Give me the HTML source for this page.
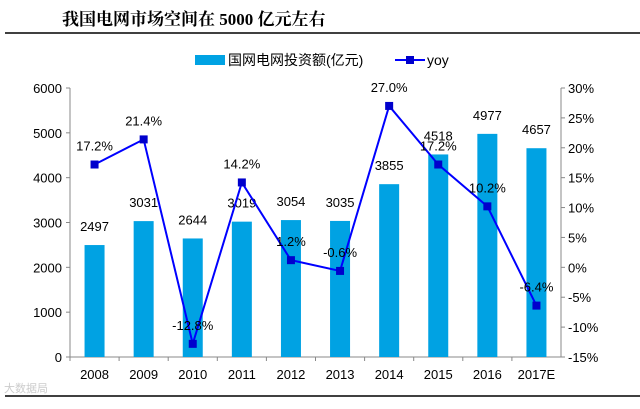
<!DOCTYPE html>
<html><head><meta charset="utf-8"><style>
body{margin:0;background:#fff;}
svg text{font-family:"Liberation Sans","Noto Sans CJK SC",sans-serif;}
</style></head><body>
<svg width="640" height="404" xmlns="http://www.w3.org/2000/svg">
<text x="62" y="25" font-size="17" font-weight="bold" style="font-family:'Liberation Serif','Noto Serif CJK SC',serif">我国电网市场空间在 5000 亿元左右</text>
<line x1="5" y1="33" x2="640" y2="33" stroke="#000" stroke-width="1.5"/>
<line x1="5" y1="396" x2="640" y2="396" stroke="#000" stroke-width="1.5"/>
<g>
<rect x="195" y="55" width="30" height="10" fill="#00a2e3"/>
<text x="228" y="65" font-size="14">国网电网投资额(亿元)</text>
<line x1="395" y1="60" x2="425" y2="60" stroke="#0000ff" stroke-width="2"/>
<rect x="406" y="56" width="8" height="8" fill="#0000cc"/>
<text x="427" y="65" font-size="14">yoy</text>
</g>
<g id="g"></g>
<text x="4" y="392" font-size="11" fill="#ccc">大数据局</text>
</svg>
<script>
const categories=["2008","2009","2010","2011","2012","2013","2014","2015","2016","2017E"];
const invest=[2497,3031,2644,3019,3054,3035,3855,4518,4977,4657];
const yoy=[17.2,21.4,-12.8,14.2,1.2,-0.6,27.0,17.2,10.2,-6.4];
const leftTicks=[0,1000,2000,3000,4000,5000,6000];
const rightTicks=[-15,-10,-5,0,5,10,15,20,25,30];
const L=70,R=561,T=88,B=357;
const step=(R-L)/categories.length;
const yL=v=>B-(v/6000)*(B-T);
const yR=v=>B-((v+15)/45)*(B-T);
const xC=i=>L+step*(i+0.5);
const g=document.getElementById('g');
const NS="http://www.w3.org/2000/svg";
function mk(t,a,txt){const e=document.createElementNS(NS,t);for(const k in a)e.setAttribute(k,a[k]);if(txt!==undefined)e.textContent=txt;g.appendChild(e);return e;}
let e;
e=mk('line',{x1:L,y1:T,x2:L,y2:B,stroke:'#888'});


e=mk('line',{x1:R,y1:T,x2:R,y2:B,stroke:'#888'});


e=mk('line',{x1:L,y1:B,x2:R,y2:B,stroke:'#888'});


leftTicks.forEach(v=>{const y=yL(v);
e=mk('line',{x1:L-4,y1:y,x2:L,y2:y,stroke:'#888'});


e=mk('text',{x:L-8,y:y+5,'font-size':13,'text-anchor':'end'},String(v));

});
rightTicks.forEach(v=>{const y=yR(v);
e=mk('line',{x1:R,y1:y,x2:R+4,y2:y,stroke:'#888'});


e=mk('text',{x:R+7,y:y+5,'font-size':13},v+'%');

});
categories.forEach((c,i)=>{
e=mk('line',{x1:L+step*i,y1:B,x2:L+step*i,y2:B+4,stroke:'#888'});


e=mk('text',{x:xC(i),y:B+22,'font-size':13,'text-anchor':'middle'},c);


e=mk('rect',{x:xC(i)-10,y:yL(invest[i]),width:20,height:B-yL(invest[i]),fill:'#00a2e3'});


e=mk('text',{x:xC(i),y:yL(invest[i])-14,'font-size':13,'text-anchor':'middle'},String(invest[i]));

});
e=mk('polyline',{points:yoy.map((v,i)=>xC(i)+','+yR(v)).join(' '),fill:'none',stroke:'#0000ff','stroke-width':2});


yoy.forEach((v,i)=>{
e=mk('rect',{x:xC(i)-4,y:yR(v)-4,width:8,height:8,fill:'#0000cc'});


e=mk('text',{x:xC(i),y:yR(v)-14,'font-size':13,'text-anchor':'middle'},v.toFixed(1)+'%');

});
</script>
</body></html>
